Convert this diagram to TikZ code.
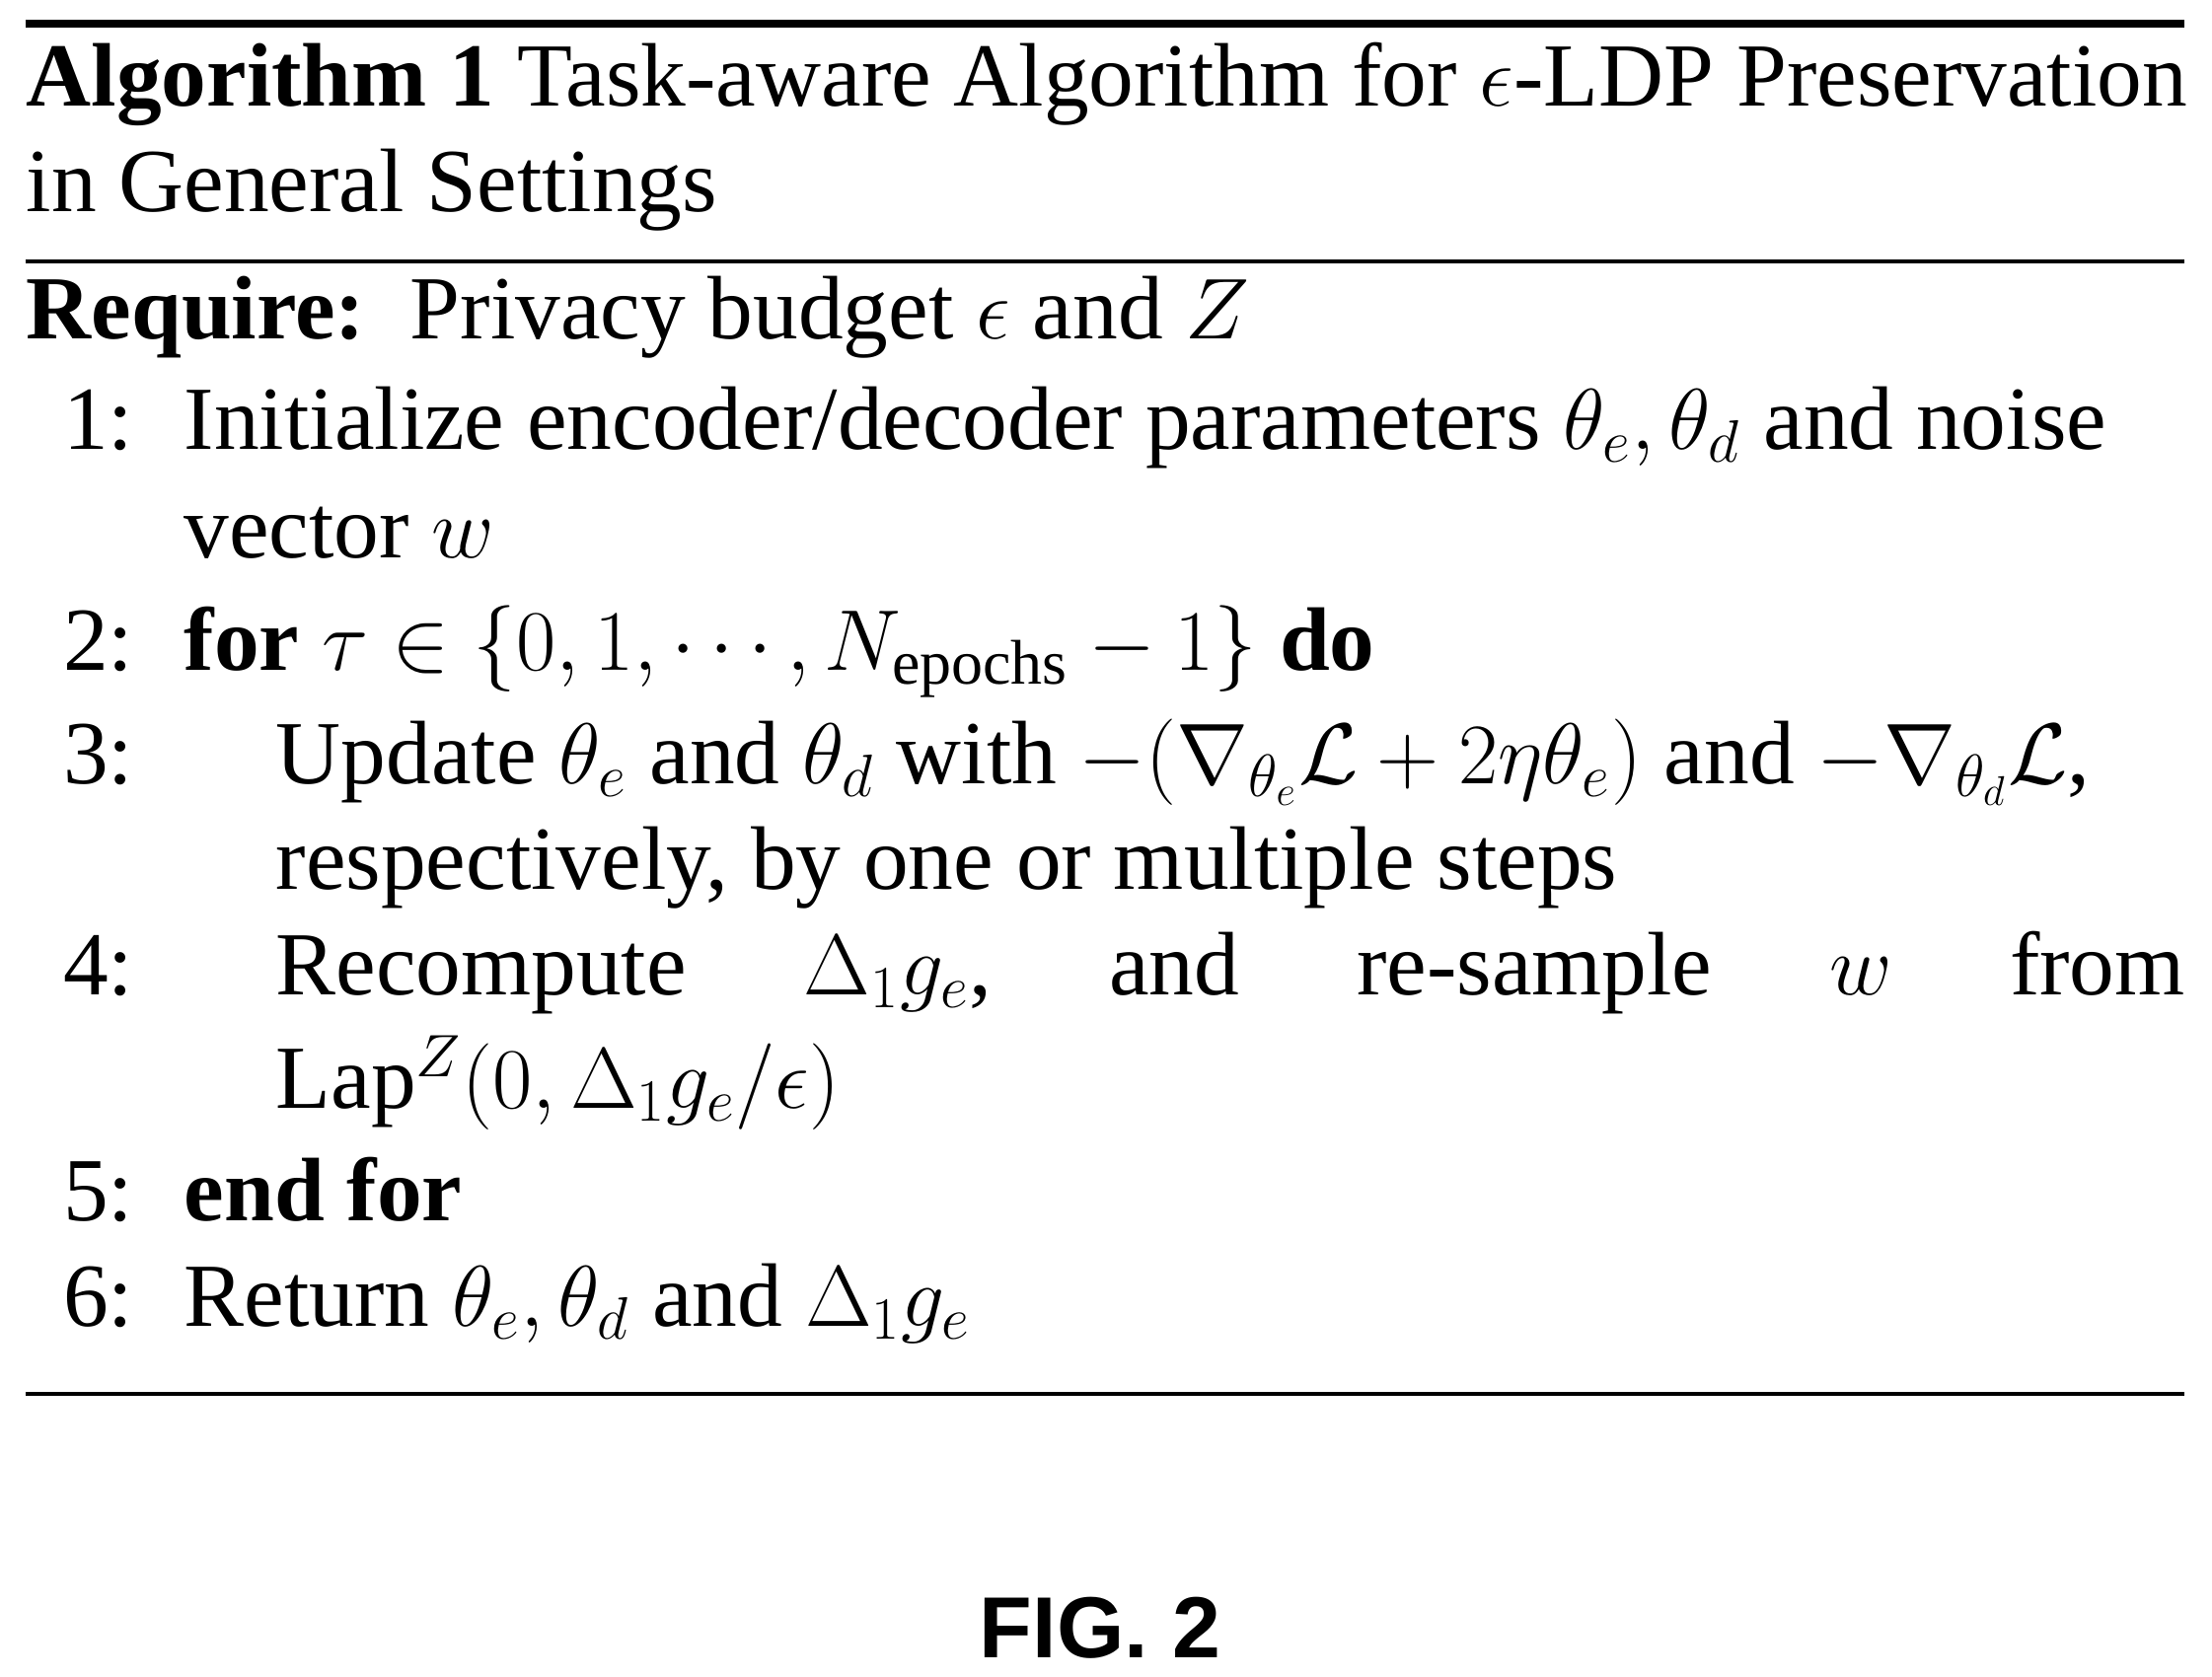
\documentclass[tikz,border=0pt]{standalone}
\usepackage{amssymb}
\usepackage{fontspec}
\setmainfont{Liberation Serif}
\setsansfont{Liberation Sans}
\usetikzlibrary{positioning}
\tikzstyle{line} = [anchor=base west, inner sep=0pt, font=\fontsize{26}{30}\selectfont]
\tikzstyle{num} = [anchor=base east, inner sep=0pt, font=\fontsize{26}{30}\selectfont]
\tikzstyle{rule} = [line width=1.2pt]

\begin{document}
\begin{tikzpicture}
  \useasboundingbox (0,0) rectangle (22.42,-17);
  % Rules
  \coordinate (tl) at (0.26,-0.24);  \coordinate (tr) at (22.14,-0.24);
  \coordinate (ml) at (0.26,-2.65);  \coordinate (mr) at (22.14,-2.65);
  \coordinate (bl) at (0.26,-14.13); \coordinate (br) at (22.14,-14.13);
  \draw[line width=2pt] (tl) -- (tr);
  \draw[rule] (ml) -- (mr);
  \draw[rule] (bl) -- (br);

  % Caption
  \node[line] (cap1) at (0.26,-1.07) {\textbf{Algorithm 1} Task-aware Algorithm for $\epsilon$-LDP Preservation};
  \node[line] (cap2) at (0.26,-2.15) {in General Settings};

  % Steps
  \node[line] (req) at (0.26,-3.43) {\textbf{Require:}\ \ Privacy budget $\epsilon$ and $Z$};
  \node[num] (n1) at (1.36,-4.55) {1:};
  \node[line] (s1) at (1.86,-4.55) {Initialize encoder/decoder parameters $\theta_e, \theta_d$ and noise};
  \node[line] (s1b) at (1.86,-5.65) {vector $w$};
  \node[num] (n2) at (1.36,-6.79) {2:};
  \node[line] (s2) at (1.86,-6.79) {\textbf{for} $\tau \in \{0, 1, \cdots, N_{\mathrm{epochs}} - 1\}$ \textbf{do}};
  \node[num] (n3) at (1.36,-7.94) {3:};
  \node[line] (s3) at (2.79,-7.94) {Update $\theta_e$ and $\theta_d$ with $-(\nabla_{\theta_e}\mathcal{L} + 2\eta\theta_e)$ and $-\nabla_{\theta_d}\mathcal{L}$,};
  \node[line] (s3b) at (2.79,-9.01) {respectively, by one or multiple steps};
  \node[num] (n4) at (1.36,-10.08) {4:};
  \node[line, text width=19.35cm] (s4) at (2.79,-10.08) {Recompute\hfill$\Delta_1 g_e$,\hfill and\hfill re-sample\hfill $w$\hfill from};
  \node[line] (s4b) at (2.79,-11.23) {Lap$^Z(0, \Delta_1 g_e/\epsilon)$};
  \node[num] (n5) at (1.36,-12.37) {5:};
  \node[line] (s5) at (1.86,-12.37) {\textbf{end for}};
  \node[num] (n6) at (1.36,-13.44) {6:};
  \node[line] (s6) at (1.86,-13.44) {Return $\theta_e, \theta_d$ and $\Delta_1 g_e$};

  % Figure label
  \node[anchor=base, inner sep=0pt, font=\fontsize{25}{30}\selectfont\sffamily\bfseries] (fig) at (11.15,-16.8) {FIG. 2};
\end{tikzpicture}
\end{document}
